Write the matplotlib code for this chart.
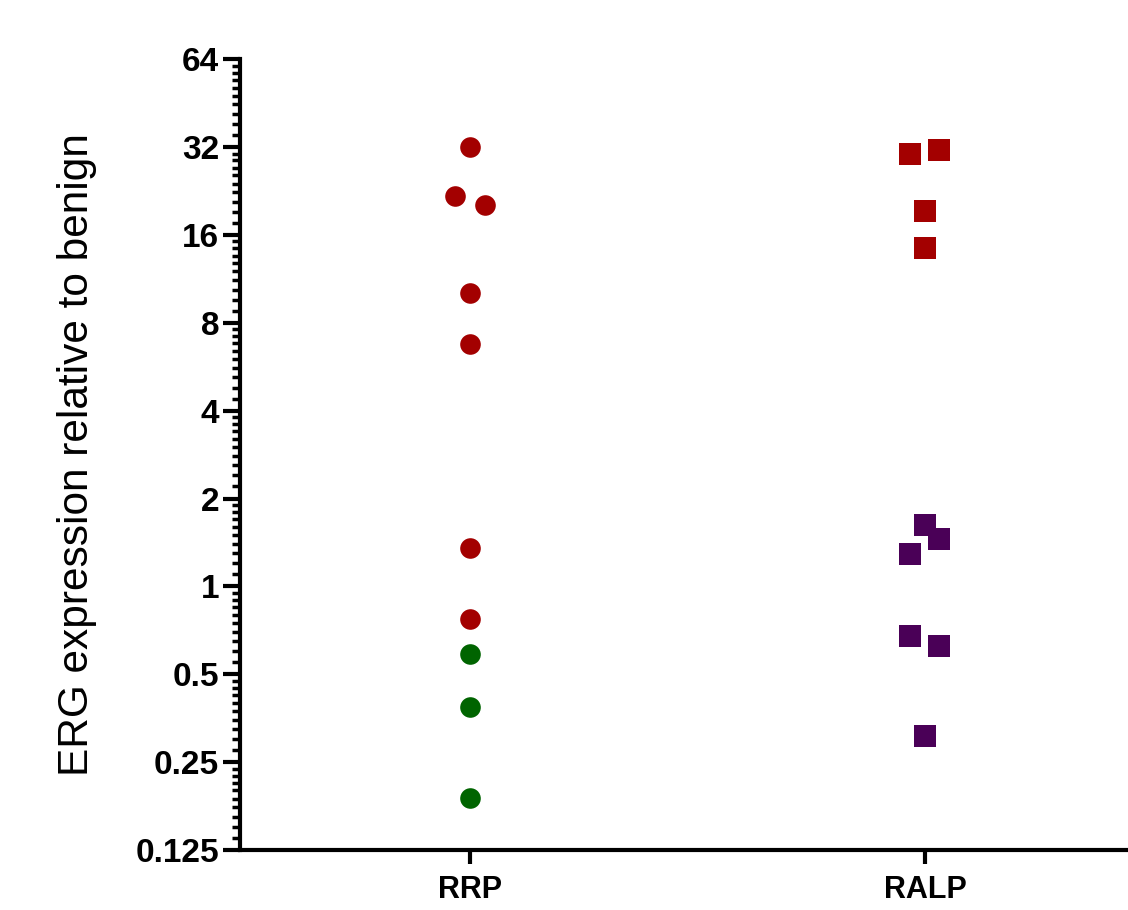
import numpy as np
import matplotlib
matplotlib.use('Agg')
from matplotlib import pyplot as plt
from matplotlib.ticker import FixedLocator, FixedFormatter, NullFormatter

plt.rcParams['font.family'] = ['Liberation Sans', 'DejaVu Sans']

groups = ['RRP', 'RALP']

# RRP (circles)
rrp_high = [32.0, 21.7, 20.2, 10.1, 6.76, 1.35, 0.773]
rrp_high_jitter = [0.0, -0.033, 0.033, 0.0, 0.0, 0.0, 0.0]
rrp_low = [0.586, 0.386, 0.188]
rrp_low_jitter = [0.0, 0.0, 0.0]

# RALP (squares)
ralp_high = [30.2, 31.4, 19.3, 14.4]
ralp_high_jitter = [-0.033, 0.031, 0.0, 0.0]
ralp_low = [1.63, 1.45, 1.29, 0.676, 0.625, 0.307]
ralp_low_jitter = [0.0, 0.031, -0.033, -0.033, 0.031, 0.0]

y_ticks = [0.125, 0.25, 0.5, 1, 2, 4, 8, 16, 32, 64]
y_tick_labels = ['0.125', '0.25', '0.5', '1', '2', '4', '8', '16', '32', '64']

red = '#a30000'
green = '#006400'
purple = '#4a0057'

fig = plt.figure(figsize=(11.28, 9.10), dpi=100)
ax = fig.add_axes([0.2128, 0.0659, 0.7872, 0.869])

ax.scatter(0 + np.array(rrp_high_jitter), rrp_high, s=220, marker='o', color=red, zorder=3, linewidths=0)
ax.scatter(0 + np.array(rrp_low_jitter), rrp_low, s=220, marker='o', color=green, zorder=3, linewidths=0)
ax.scatter(1 + np.array(ralp_high_jitter), ralp_high, s=240, marker='s', color=red, zorder=3, linewidths=0)
ax.scatter(1 + np.array(ralp_low_jitter), ralp_low, s=240, marker='s', color=purple, zorder=3, linewidths=0)

ax.set_yscale('log', base=2)
ax.set_ylim(0.125, 64)
ax.set_xlim(-0.5055, 1.446)

# minor ticks: linear subdivisions within each octave
minor = []
for lo in y_ticks[:-1]:
    minor.extend(lo + lo * np.arange(1, 10) / 10)
ax.yaxis.set_major_locator(FixedLocator(y_ticks))
ax.yaxis.set_major_formatter(FixedFormatter(y_tick_labels))
ax.yaxis.set_minor_locator(FixedLocator(minor))
ax.yaxis.set_minor_formatter(NullFormatter())

ax.set_xticks([0, 1])
ax.set_xticklabels(groups)

for side in ('top', 'right'):
    ax.spines[side].set_visible(False)
for side in ('left', 'bottom'):
    ax.spines[side].set_linewidth(3)
    ax.spines[side].set_capstyle('projecting')

ax.tick_params(axis='y', which='major', length=12, width=3, labelsize=24, pad=3)
ax.tick_params(axis='y', which='minor', length=6, width=2.5)
ax.tick_params(axis='x', which='major', length=10, width=3, labelsize=22, pad=8)
for lbl in ax.get_yticklabels() + ax.get_xticklabels():
    lbl.set_fontweight('bold')

ax.set_ylabel('ERG expression relative to benign', fontsize=30.5, labelpad=28)

fig.savefig('out.png', dpi=100)
